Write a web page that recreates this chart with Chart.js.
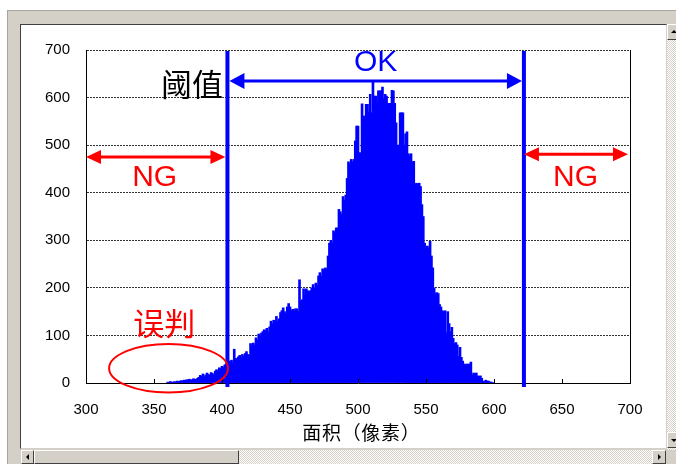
<!DOCTYPE html>
<html>
<head>
<meta charset="utf-8">
<script src="https://cdn.jsdelivr.net/npm/chart.js@4.4.1/dist/chart.umd.min.js"></script>
<style>
  html, body { margin: 0; padding: 0; background: #fff; }
  body { width: 676px; height: 464px; position: relative; overflow: hidden; }
  .frame { position: absolute; left: 7px; top: 10px; right: 0; bottom: 0; background: #d4d0c8; border-top: 1px solid #a8a59d; border-left: 1px solid #a8a59d; }
  .panel { position: absolute; left: 20px; top: 24px; width: 645px; height: 423px; background: #fff; border: 1px solid #404040; border-right-color: #d4d0c8; border-bottom-color: #d4d0c8; }
  .panel canvas { position: absolute; left: 0; top: 0; }
  .track { position: absolute; background-color: #fff; background-image: conic-gradient(#d4d0c8 25%, #fff 0 50%, #d4d0c8 0 75%, #fff 0); background-size: 2px 2px; }
  .btn { position: absolute; background: #d4d0c8; box-sizing: border-box; border: 1px solid; border-color: #fff #404040 #404040 #fff; }
  .btn::after { content: ""; position: absolute; left: 50%; top: 50%; width: 0; height: 0; border: 3px solid transparent; }
  .left::after { border-right-color: #000; border-left-width: 0; transform: translate(-2px, -3px); }
  .right::after { border-left-color: #000; border-right-width: 0; transform: translate(-1px, -3px); }
  .up::after { border-bottom-color: #000; border-top-width: 0; transform: translate(-3px, -2px); }
  .down::after { border-top-color: #000; border-bottom-width: 0; transform: translate(-3px, -1px); }
</style>
</head>
<body>
<div class="frame"></div>
<div class="panel"><canvas id="histChart" width="645" height="423"></canvas></div>
<div class="track" style="left:21px; top:450px; width:645px; height:14px;"></div>
<div class="btn left" style="left:21px; top:450px; width:13px; height:14px;"></div>
<div class="btn" style="left:34px; top:450px; width:205px; height:14px;"></div>
<div class="btn right" style="left:652px; top:450px; width:14px; height:14px;"></div>
<div class="track" style="left:667px; top:24px; width:9px; height:426px;"></div>
<div class="btn up" style="left:667px; top:24px; width:14px; height:16px;"></div>
<div class="btn down" style="left:667px; top:432px; width:14px; height:16px;"></div>
<script>
// histogram of blob areas (pixels), one bin per pixel value
const binStart = 360;
const counts = [
  2, 1, 3, 2, 1, 3, 2, 4, 3, 4,
  5, 4, 6, 5, 7, 6, 8, 6, 7, 9,
  8, 7, 10, 12, 16, 14, 19, 13, 17, 21,
  18, 16, 22, 20, 17, 25, 28, 24, 32, 30,
  35, 33, 38, 40, 44, 46, 45, 48, 42, 71,
  52, 50, 55, 58, 48, 60, 56, 62, 66, 60,
  58, 83, 78, 84, 80, 95, 90, 103, 98, 105,
  108, 112, 110, 115, 108, 118, 130, 125, 132, 128,
  140, 130, 135, 148, 152, 158, 150, 145, 160, 167,
  160, 152, 155, 150, 156, 156, 150, 217, 173, 175,
  198, 185, 198, 194, 190, 194, 200, 207, 200, 210,
  205, 225, 232, 225, 240, 238, 242, 240, 267, 294,
  300, 294, 320, 316, 326, 326, 365, 360, 355, 392,
  385, 395, 430, 465, 460, 470, 465, 470, 509, 540,
  540, 484, 484, 587, 561, 561, 586, 586, 570, 607,
  568, 632, 603, 603, 588, 614, 614, 614, 622, 598,
  607, 603, 588, 588, 588, 615, 614, 588, 547, 500,
  500, 568, 568, 568, 500, 524, 528, 482, 478, 482,
  465, 466, 418, 420, 418, 420, 413, 375, 350, 294,
  286, 288, 284, 298, 267, 242, 200, 188, 190, 188,
  165, 160, 152, 150, 152, 106, 150, 125, 108, 117,
  94, 83, 85, 80, 56, 75, 54, 46, 40, 38,
  40, 39, 40, 44, 17, 21, 20, 21, 15, 14,
  15, 10, 4, 3, 6, 4, 4, 2, 2, 1
];
const xTicks = [300, 350, 400, 450, 500, 550, 600, 650, 700];
const yTicks = [0, 100, 200, 300, 400, 500, 600, 700];
const xTitle = "面积（像素）";

// annotation positions, in data units
const thresholds = [404, 622];
const okArrow = { from: 404, to: 622, y: 635 };
const ngArrows = [
  { from: 300, to: 404, y: 475 },
  { from: 622, to: 700, y: 481 }
];
const notes = [
  { text: "OK", x: 513, y: 673, color: "#0000ff", font: '30px "Liberation Sans"' },
  { text: "阈值", x: 378, y: 628, color: "#000", font: '31px "Noto Sans CJK SC"' },
  { text: "NG", x: 350.5, y: 431, color: "#ff0000", font: '30px "Liberation Sans"' },
  { text: "NG", x: 660, y: 431, color: "#ff0000", font: '30px "Liberation Sans"' },
  { text: "误判", x: 357.5, y: 125, color: "#ff0000", font: '31px "Noto Sans CJK SC"' }
];
const missEllipse = { x: 360.7, y: 31, rx: 43.7, ry: 51 };

const points = counts.map((c, i) => ({ x: binStart + i, y: c }));

function arrow(ctx, x1, x2, y, color, head, half) {
  ctx.save();
  ctx.strokeStyle = color;
  ctx.fillStyle = color;
  ctx.lineWidth = 3;
  ctx.beginPath();
  ctx.moveTo(x1 + head - 1, y);
  ctx.lineTo(x2 - head + 1, y);
  ctx.stroke();
  ctx.beginPath();
  ctx.moveTo(x1, y);
  ctx.lineTo(x1 + head, y - half);
  ctx.lineTo(x1 + head, y + half);
  ctx.closePath();
  ctx.fill();
  ctx.beginPath();
  ctx.moveTo(x2, y);
  ctx.lineTo(x2 - head, y - half);
  ctx.lineTo(x2 - head, y + half);
  ctx.closePath();
  ctx.fill();
  ctx.restore();
}

const markup = {
  id: "markup",
  afterDatasetsDraw(chart) {
    const { ctx, chartArea: a, scales: { x, y } } = chart;

    // frame on the right and small inner ticks on the x axis
    ctx.save();
    ctx.strokeStyle = "#000";
    ctx.lineWidth = 1;
    ctx.beginPath();
    ctx.moveTo(Math.round(a.right) + 0.5, a.top);
    ctx.lineTo(Math.round(a.right) + 0.5, a.bottom + 0.5);
    xTicks.slice(1).forEach((v) => {
      const px = Math.round(x.getPixelForValue(v)) + 0.5;
      ctx.moveTo(px, a.bottom);
      ctx.lineTo(px, a.bottom - 4);
    });
    ctx.stroke();
    ctx.restore();

    // threshold lines
    ctx.save();
    ctx.strokeStyle = "#0000ff";
    ctx.lineWidth = 4;
    thresholds.forEach((t) => {
      const px = x.getPixelForValue(t);
      ctx.beginPath();
      ctx.moveTo(px, a.top + 1);
      ctx.lineTo(px, a.bottom + 4);
      ctx.stroke();
    });
    ctx.restore();

    arrow(ctx, x.getPixelForValue(okArrow.from) + 2, x.getPixelForValue(okArrow.to) - 2,
      y.getPixelForValue(okArrow.y), "#0000ff", 15, 8);
    ngArrows.forEach((r) => {
      arrow(ctx, x.getPixelForValue(r.from), x.getPixelForValue(r.to) - 2,
        y.getPixelForValue(r.y), "#ff0000", 15, 7);
    });

    ctx.save();
    ctx.textAlign = "center";
    ctx.textBaseline = "middle";
    notes.forEach((n) => {
      ctx.font = n.font;
      ctx.fillStyle = n.color;
      ctx.fillText(n.text, x.getPixelForValue(n.x), y.getPixelForValue(n.y));
    });

    // axis title, one full-width cell per character
    ctx.font = '19px "Noto Sans CJK SC"';
    ctx.fillStyle = "#000";
    const step = 19.7;
    const tx = (a.left + a.right) / 2 + 3 - (step * xTitle.length) / 2 + step / 2;
    [...xTitle].forEach((ch, i) => ctx.fillText(ch, tx + i * step, a.bottom + 50));

    const cx = x.getPixelForValue(missEllipse.x);
    const cy = y.getPixelForValue(missEllipse.y);
    const rx = x.getPixelForValue(missEllipse.x + missEllipse.rx) - cx;
    const ry = cy - y.getPixelForValue(missEllipse.y + missEllipse.ry);
    ctx.strokeStyle = "#ff0000";
    ctx.lineWidth = 2;
    ctx.beginPath();
    ctx.ellipse(cx, cy, rx, ry, 0, 0, Math.PI * 2);
    ctx.stroke();
    ctx.restore();
  }
};

new Chart(document.getElementById("histChart"), {
  type: "bar",
  data: {
    datasets: [{
      data: points,
      backgroundColor: "#0000ff",
      borderWidth: 0,
      barThickness: 2
    }]
  },
  options: {
    responsive: false,
    animation: false,
    layout: { padding: { left: 0, top: 23, right: 36, bottom: 0 } },
    plugins: { legend: { display: false }, tooltip: { enabled: false } },
    scales: {
      x: {
        type: "linear",
        offset: false,
        min: 300,
        max: 700,
        afterFit: (s) => { s.height = 65; },
        afterBuildTicks: (s) => { s.ticks = xTicks.map((v) => ({ value: v })); },
        ticks: { color: "#000", padding: 18, font: { family: "Liberation Sans", size: 15 }, maxRotation: 0 },
        grid: { display: false, drawTicks: false },
        border: { display: true, color: "#000", width: 1 }
      },
      y: {
        min: 0,
        max: 700,
        afterFit: (s) => { s.width = 65; },
        afterBuildTicks: (s) => { s.ticks = yTicks.map((v) => ({ value: v })); },
        ticks: { color: "#000", padding: 16, font: { family: "Liberation Sans", size: 15 } },
        grid: {
          drawTicks: false,
          color: (c) => (c.tick && c.tick.value === 0 ? "rgba(0,0,0,0)" : "#333"),
          lineWidth: 1
        },
        border: { display: true, color: "#000", width: 1, dash: [2, 1] }
      }
    }
  },
  plugins: [markup]
});
</script>
</body>
</html>
